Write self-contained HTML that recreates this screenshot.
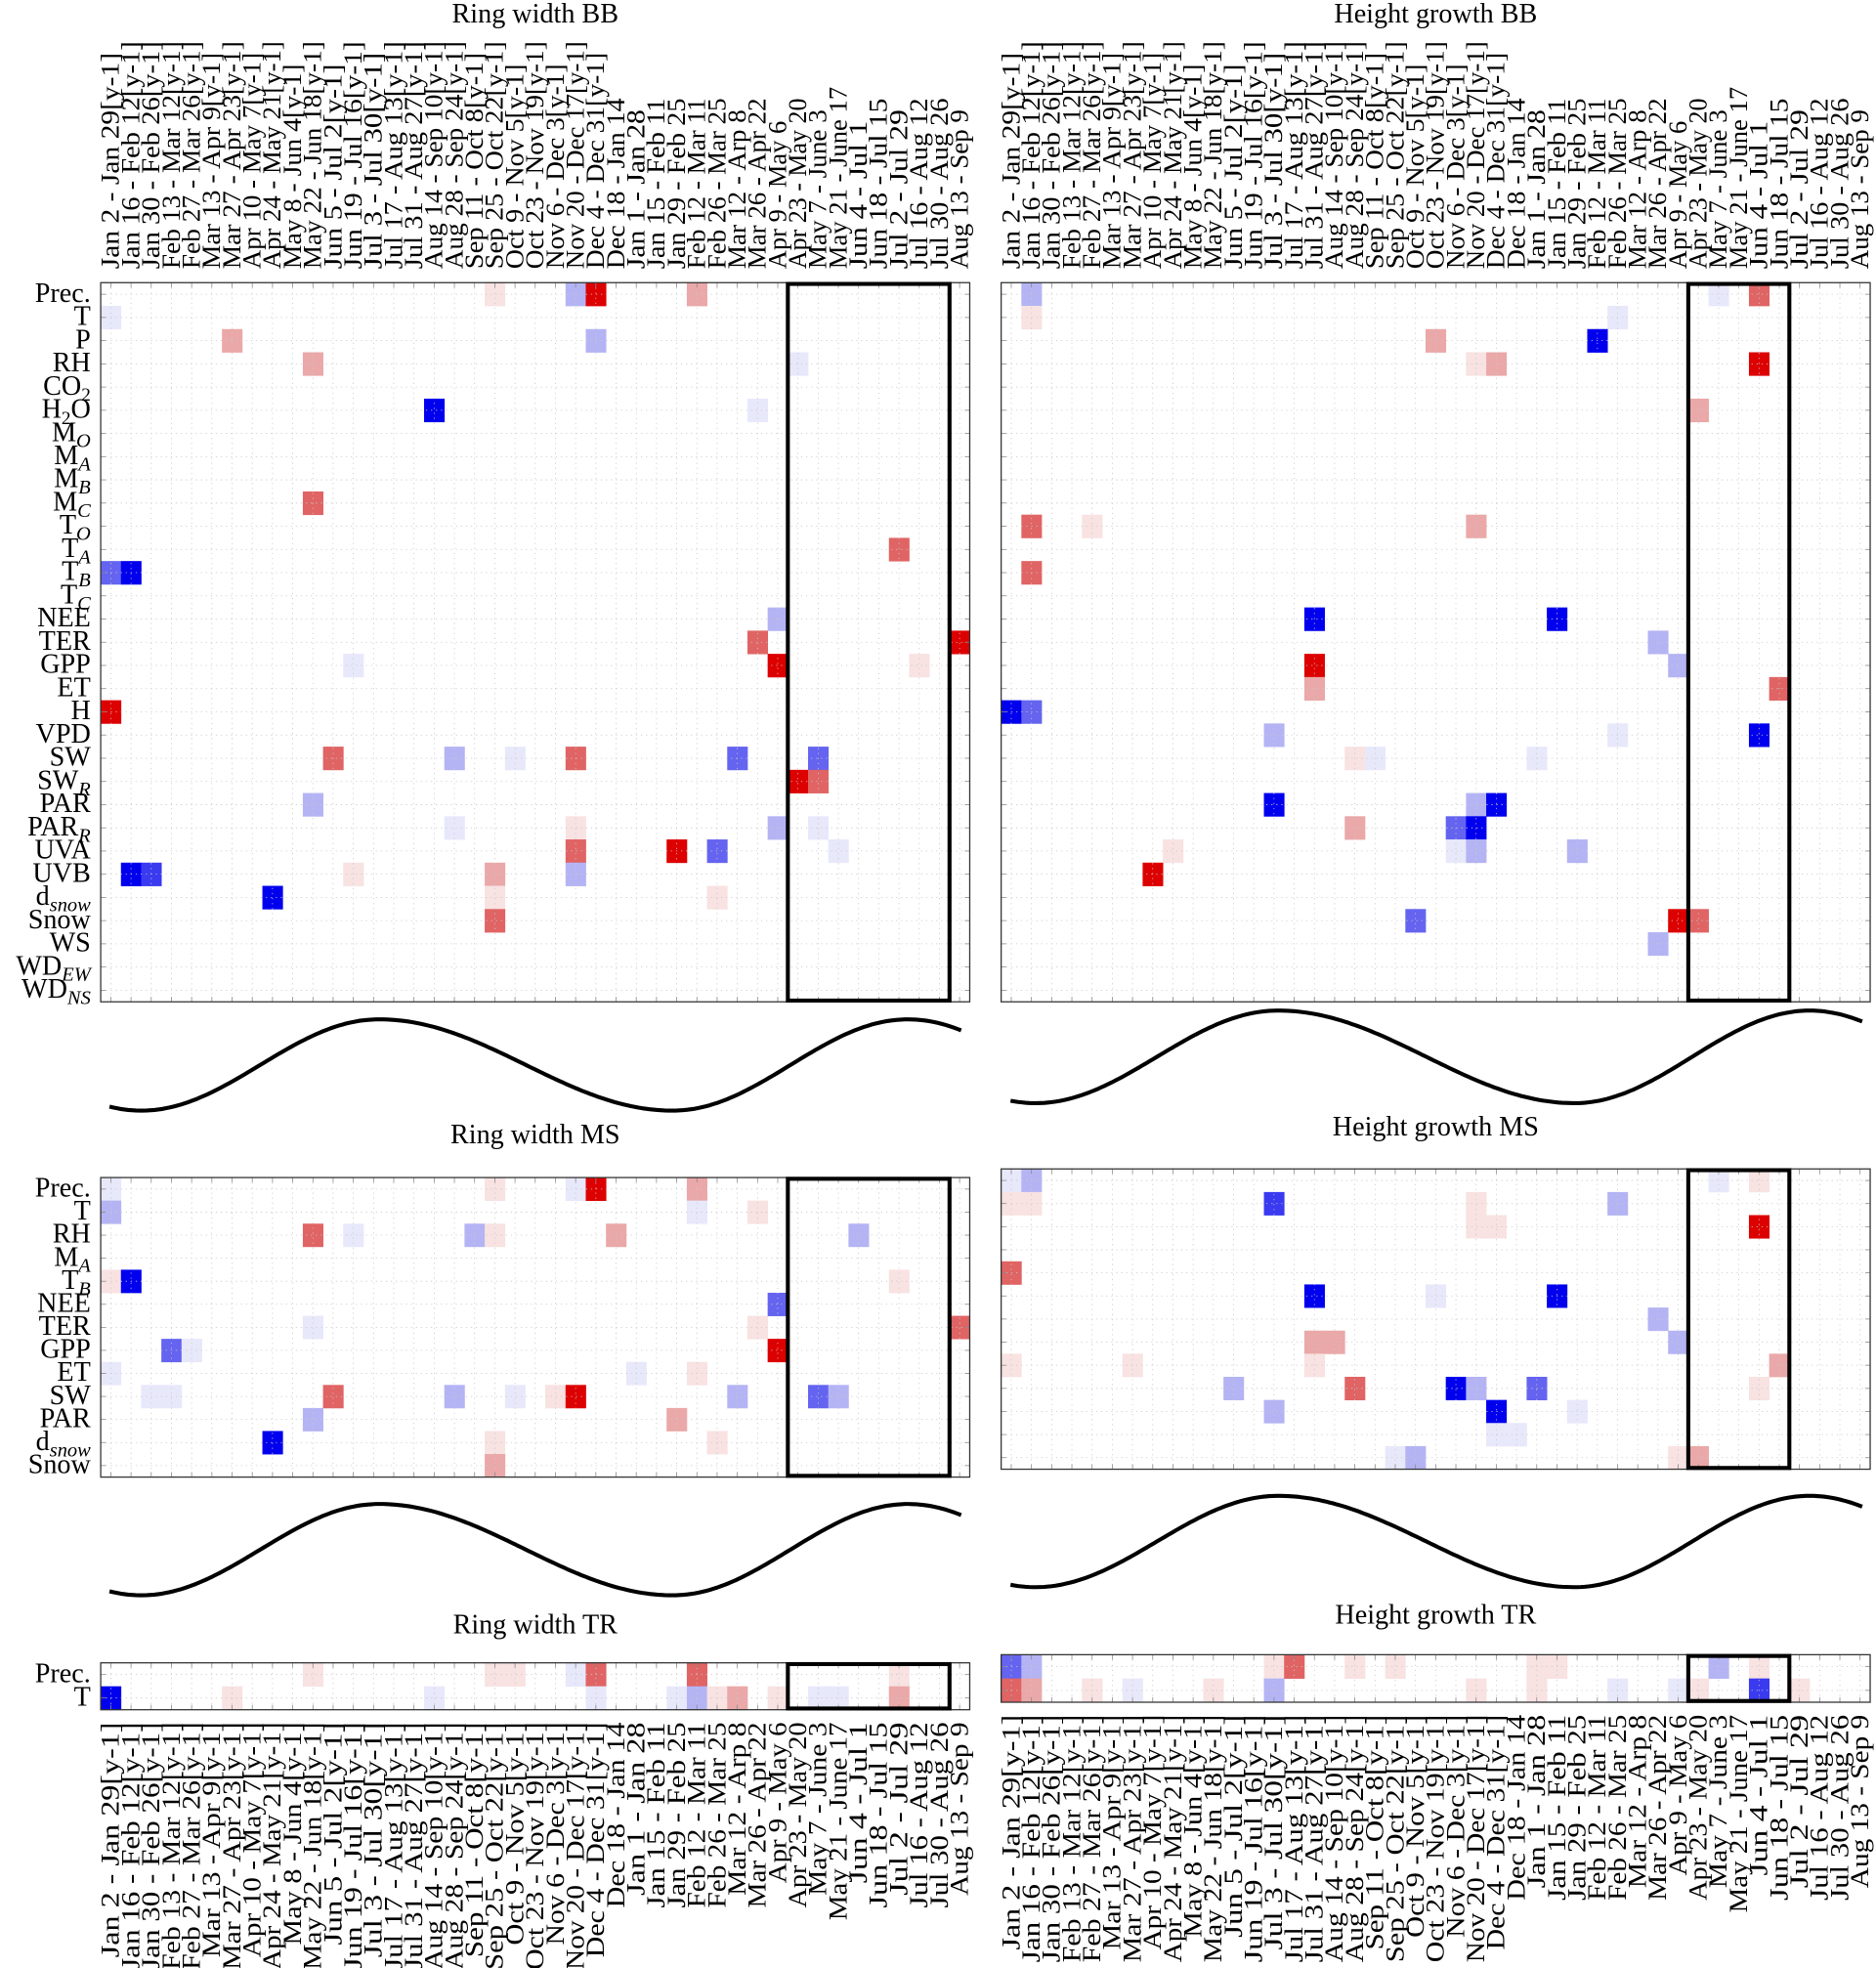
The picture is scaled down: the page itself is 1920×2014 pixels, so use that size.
<!DOCTYPE html>
<html><head><meta charset="utf-8"><style>
html,body{margin:0;padding:0;background:#fff;width:1920px;height:2014px;overflow:hidden}
svg{display:block}
text{font-family:"Liberation Serif","DejaVu Serif",serif;fill:#000}
</style></head><body>
<svg id="s" width="1920" height="2014" viewBox="0 0 1500 1573.5" xmlns="http://www.w3.org/2000/svg"></svg>
<script>
const S=document.getElementById('s');let out='';
const COL={R3:'#dd0000',R2:'#e06464',R1:'#eaa8a8',R0:'#f8e2e2',B3:'#0000ee',B2:'#6464f0',B1:'#b4b4f4',B0:'#e8e8fb',b3:'#3a3af0'};
const starts=["Jan 2","Jan 16","Jan 30","Feb 13","Feb 27","Mar 13","Mar 27","Apr 10","Apr 24","May 8","May 22","Jun 5","Jun 19","Jul 3","Jul 17","Jul 31","Aug 14","Aug 28","Sep 11","Sep 25","Oct 9","Oct 23","Nov 6","Nov 20","Dec 4","Dec 18","Jan 1","Jan 15","Jan 29","Feb 12","Feb 26","Mar 12","Mar 26","Apr 9","Apr 23","May 7","May 21","Jun 4","Jun 18","Jul 2","Jul 16","Jul 30","Aug 13"];
const ends=["Jan 29[y-1]","Feb 12[y-1]","Feb 26[y-1]","Mar 12[y-1]","Mar 26[y-1]","Apr 9[y-1]","Apr 23[y-1]","May 7[y-1]","May 21[y-1]","Jun 4[y-1]","Jun 18[y-1]","Jul 2[y-1]","Jul 16[y-1]","Jul 30[y-1]","Aug 13[y-1]","Aug 27[y-1]","Sep 10[y-1]","Sep 24[y-1]","Oct 8[y-1]","Oct 22[y-1]","Nov 5[y-1]","Nov 19[y-1]","Dec 3[y-1]","Dec 17[y-1]","Dec 31[y-1]","Jan 14","Jan 28","Feb 11","Feb 25","Mar 11","Mar 25","Arp 8","Apr 22","May 6","May 20","June 3","June 17","Jul 1","Jul 15","Jul 29","Aug 12","Aug 26","Sep 9"];
const labs=starts.map((s,i)=>s+" - "+ends[i]);
const CW=16.16;
function panel(o){
 const {x0,y0,y1,n,cells,bx,labels,top,bottom,title,ty}=o;
 const x1=x0+43*CW, rh=(y1-y0)/n;
 for(const [r,c,k] of cells){out+=`<rect x="${(x0+c*CW).toFixed(2)}" y="${(y0+r*rh).toFixed(2)}" width="${CW+0.3}" height="${rh+0.3}" fill="${COL[k]}"/>`;}
 for(let c=0;c<43;c++){const x=x0+(c+0.5)*CW;out+=`<line x1="${x}" y1="${y0}" x2="${x}" y2="${y1}" stroke="#c8c8c8" stroke-width="0.6" stroke-dasharray="1,3"/>`;
  out+=`<line x1="${x}" y1="${y0}" x2="${x}" y2="${y0+4}" stroke="#888" stroke-width="0.6"/><line x1="${x}" y1="${y1}" x2="${x}" y2="${y1-4}" stroke="#888" stroke-width="0.6"/>`;}
 for(let r=0;r<n;r++){const y=y0+(r+0.5)*rh;out+=`<line x1="${x0}" y1="${y}" x2="${x1}" y2="${y}" stroke="#c8c8c8" stroke-width="0.6" stroke-dasharray="1,3"/>`;
  out+=`<line x1="${x0}" y1="${y}" x2="${x0+4}" y2="${y}" stroke="#888" stroke-width="0.6"/><line x1="${x1}" y1="${y}" x2="${x1-4}" y2="${y}" stroke="#888" stroke-width="0.6"/>`;}
 out+=`<rect x="${x0}" y="${y0}" width="${x1-x0}" height="${y1-y0}" fill="none" stroke="#333" stroke-width="1"/>`;
 out+=`<rect x="${x0+bx[0]*CW}" y="${y0+1}" width="${(bx[1]-bx[0])*CW}" height="${y1-y0-2}" fill="none" stroke="#000" stroke-width="3.2"/>`;
 if(labels){labels.forEach((l,r)=>{out+=`<text x="${x0-8}" y="${y0+(r+0.5)*rh+6}" font-size="22" text-anchor="end">${l}</text>`;});}
 if(top){for(let c=0;c<43;c++){const x=x0+(c+0.5)*CW+6.5;const y=y0-11;out+=`<text transform="translate(${x.toFixed(2)},${y}) rotate(-90)" font-size="21" textLength="${labs[c].length*9.1}" lengthAdjust="spacingAndGlyphs">${labs[c]}</text>`;}}
 if(bottom){for(let c=0;c<43;c++){const x=x0+(c+0.5)*CW+6.5;const y=y1+10;out+=`<text transform="translate(${x.toFixed(2)},${y}) rotate(-90)" font-size="21" text-anchor="end" textLength="${labs[c].length*9.9}" lengthAdjust="spacingAndGlyphs">${labs[c]}</text>`;}}
 out+=`<text x="${(x0+x1)/2}" y="${ty}" font-size="22" text-anchor="middle">${title}</text>`;
}
function curve(dx,ymin,ymax,xs){
 const ext=[[xs[1],ymin],[xs[2],ymax],[xs[3],ymin],[xs[4],ymax]];
 const pts=[];
 function val(x){
  if(x<=ext[0][0]){const p=(ext[0][0]-x)/(ext[1][0]-ext[0][0]);return ymin-(ymin-ymax)*(1-Math.cos(Math.PI*p))/2;}
  if(x>=ext[3][0]){const p=(x-ext[3][0])/(ext[3][0]-ext[2][0]);return ymax+(ymin-ymax)*(1-Math.cos(Math.PI*p))/2;}
  for(let i=0;i<3;i++){const a=ext[i],b=ext[i+1];if(x>=a[0]&&x<=b[0]){const p=(x-a[0])/(b[0]-a[0]);return a[1]+(b[1]-a[1])*(1-Math.cos(Math.PI*p))/2;}}
 }
 for(let x=xs[0];x<=xs[5];x+=3)pts.push((x+dx).toFixed(1)+','+val(x).toFixed(1));
 out+=`<polyline points="${pts.join(' ')}" fill="none" stroke="#000" stroke-width="3.2" stroke-linejoin="round"/>`;
}
const sub=(a,b)=>`${a}<tspan font-style="italic" font-size="16" dy="5">${b}</tspan>`;
const bbLabels=["Prec.","T","P","RH",'CO<tspan font-size="15" dy="5">2</tspan>','H<tspan font-size="15" dy="5">2</tspan><tspan dy="-5">O</tspan>',sub("M","O"),sub("M","A"),sub("M","B"),sub("M","C"),sub("T","O"),sub("T","A"),sub("T","B"),sub("T","C"),"NEE","TER","GPP","ET","H","VPD","SW",sub("SW","R"),"PAR",sub("PAR","R"),"UVA","UVB",sub("d","snow"),"Snow","WS",sub("WD","EW"),sub("WD","NS")];
const msLabels=["Prec.","T","RH",sub("M","A"),sub("T","B"),"NEE","TER","GPP","ET","SW","PAR",sub("d","snow"),"Snow"];
panel({x0:80.5,y0:226,y1:801,n:31,bx:[34,42],labels:bbLabels,top:true,title:"Ring width BB",ty:18,cells:[
[0,19,'R0'],[0,23,'B1'],[0,24,'R3'],[0,29,'R1'],[1,0,'B0'],[2,6,'R1'],[2,24,'B1'],[3,10,'R1'],[3,34,'B0'],
[5,16,'B3'],[5,32,'B0'],[9,10,'R2'],[11,39,'R2'],[12,0,'B2'],[12,1,'B3'],[14,33,'B1'],[15,32,'R2'],[15,42,'R3'],
[16,12,'B0'],[16,33,'R3'],[16,40,'R0'],[18,0,'R3'],
[20,11,'R2'],[20,17,'B1'],[20,20,'B0'],[20,23,'R2'],[20,31,'B2'],[20,35,'B2'],[21,34,'R3'],[21,35,'R2'],
[22,10,'B1'],[23,17,'B0'],[23,23,'R0'],[23,33,'B1'],[23,35,'B0'],[24,23,'R2'],[24,28,'R3'],[24,30,'B2'],[24,36,'B0'],
[25,1,'B3'],[25,2,'b3'],[25,12,'R0'],[25,19,'R1'],[25,23,'B1'],[26,8,'B3'],[26,19,'R0'],[26,30,'R0'],[27,19,'R2']]});
panel({x0:800.5,y0:226,y1:801,n:31,bx:[34,39],top:true,title:"Height growth BB",ty:18,cells:[
[0,1,'B1'],[0,35,'B0'],[0,37,'R2'],[1,1,'R0'],[1,30,'B0'],[2,21,'R1'],[2,29,'B3'],[3,23,'R0'],[3,24,'R1'],[3,37,'R3'],
[5,34,'R1'],[10,1,'R2'],[10,4,'R0'],[10,23,'R1'],[12,1,'R2'],[14,15,'B3'],[14,27,'B3'],[15,32,'B1'],[16,15,'R3'],[16,33,'B1'],
[17,15,'R1'],[17,38,'R2'],[18,0,'B3'],[18,1,'B2'],[19,13,'B1'],[19,30,'B0'],[19,37,'B3'],[20,17,'R0'],[20,18,'B0'],[20,26,'B0'],
[22,13,'B3'],[22,23,'B1'],[22,24,'B3'],[23,17,'R1'],[23,22,'B2'],[23,23,'B3'],[24,8,'R0'],[24,22,'B0'],[24,23,'B1'],[24,28,'B1'],
[25,7,'R3'],[27,20,'B2'],[27,33,'R3'],[27,34,'R2'],[28,32,'B1']]});
panel({x0:80.5,y0:941.5,y1:1181,n:13,bx:[34,42],labels:msLabels,title:"Ring width MS",ty:914,cells:[
[0,0,'B0'],[0,19,'R0'],[0,23,'B0'],[0,24,'R3'],[0,29,'R1'],[1,0,'B1'],[1,29,'B0'],[1,32,'R0'],
[2,10,'R2'],[2,12,'B0'],[2,18,'B1'],[2,19,'R0'],[2,25,'R1'],[2,37,'B1'],[4,0,'R0'],[4,1,'B3'],[4,39,'R0'],
[5,33,'B2'],[6,10,'B0'],[6,32,'R0'],[6,42,'R2'],[7,3,'B2'],[7,4,'B0'],[7,33,'R3'],[8,0,'B0'],[8,26,'B0'],[8,29,'R0'],
[9,2,'B0'],[9,3,'B0'],[9,11,'R2'],[9,17,'B1'],[9,20,'B0'],[9,22,'R0'],[9,23,'R3'],[9,31,'B1'],[9,35,'B2'],[9,36,'B1'],
[10,10,'B1'],[10,28,'R1'],[11,8,'B3'],[11,19,'R0'],[11,30,'R0'],[12,19,'R1']]});
panel({x0:800.5,y0:934.6,y1:1174.7,n:13,bx:[34,39],title:"Height growth MS",ty:908,cells:[
[0,0,'B0'],[0,1,'B1'],[0,35,'B0'],[0,37,'R0'],[1,0,'R0'],[1,1,'R0'],[1,13,'b3'],[1,23,'R0'],[1,30,'B1'],
[2,23,'R0'],[2,24,'R0'],[2,37,'R3'],[4,0,'R2'],[5,15,'B3'],[5,21,'B0'],[5,27,'B3'],[6,32,'B1'],
[7,15,'R1'],[7,16,'R1'],[7,33,'B1'],[8,0,'R0'],[8,6,'R0'],[8,15,'R0'],[8,38,'R1'],
[9,11,'B1'],[9,17,'R2'],[9,22,'B3'],[9,23,'B1'],[9,26,'B2'],[9,37,'R0'],[10,13,'B1'],[10,24,'B3'],[10,28,'B0'],
[11,24,'B0'],[11,25,'B0'],[12,19,'B0'],[12,20,'B1'],[12,33,'R0'],[12,34,'R1']]});
panel({x0:80.5,y0:1329.5,y1:1367,n:2,bx:[34,42],labels:["Prec.","T"],bottom:true,title:"Ring width TR",ty:1306,cells:[
[0,10,'R0'],[0,19,'R0'],[0,20,'R0'],[0,23,'B0'],[0,24,'R2'],[0,29,'R2'],[0,39,'R0'],
[1,0,'B3'],[1,6,'R0'],[1,16,'B0'],[1,24,'B0'],[1,28,'B0'],[1,29,'B1'],[1,30,'R0'],[1,31,'R1'],[1,33,'R0'],[1,35,'B0'],[1,36,'B0'],[1,39,'R1']]});
panel({x0:800.5,y0:1323,y1:1361,n:2,bx:[34,39],bottom:true,title:"Height growth TR",ty:1298,cells:[
[0,0,'B2'],[0,1,'B1'],[0,13,'R0'],[0,14,'R2'],[0,17,'R0'],[0,19,'R0'],[0,26,'R0'],[0,27,'R0'],[0,35,'B1'],[0,37,'R0'],
[1,0,'R2'],[1,1,'R1'],[1,4,'R0'],[1,6,'B0'],[1,10,'R0'],[1,13,'B1'],[1,23,'R0'],[1,26,'R0'],[1,30,'B0'],[1,33,'B0'],[1,34,'R0'],[1,37,'b3'],[1,39,'R0']]});
const L=[87.5,113,303,538,726,770], R=[808,828,1022,1259,1447,1490];
curve(0,888,815,L);
curve(0,882,808,R);
curve(0,1275.5,1202.5,L);
curve(0,1269,1196,R);
S.innerHTML=out;
</script>
</body></html>
